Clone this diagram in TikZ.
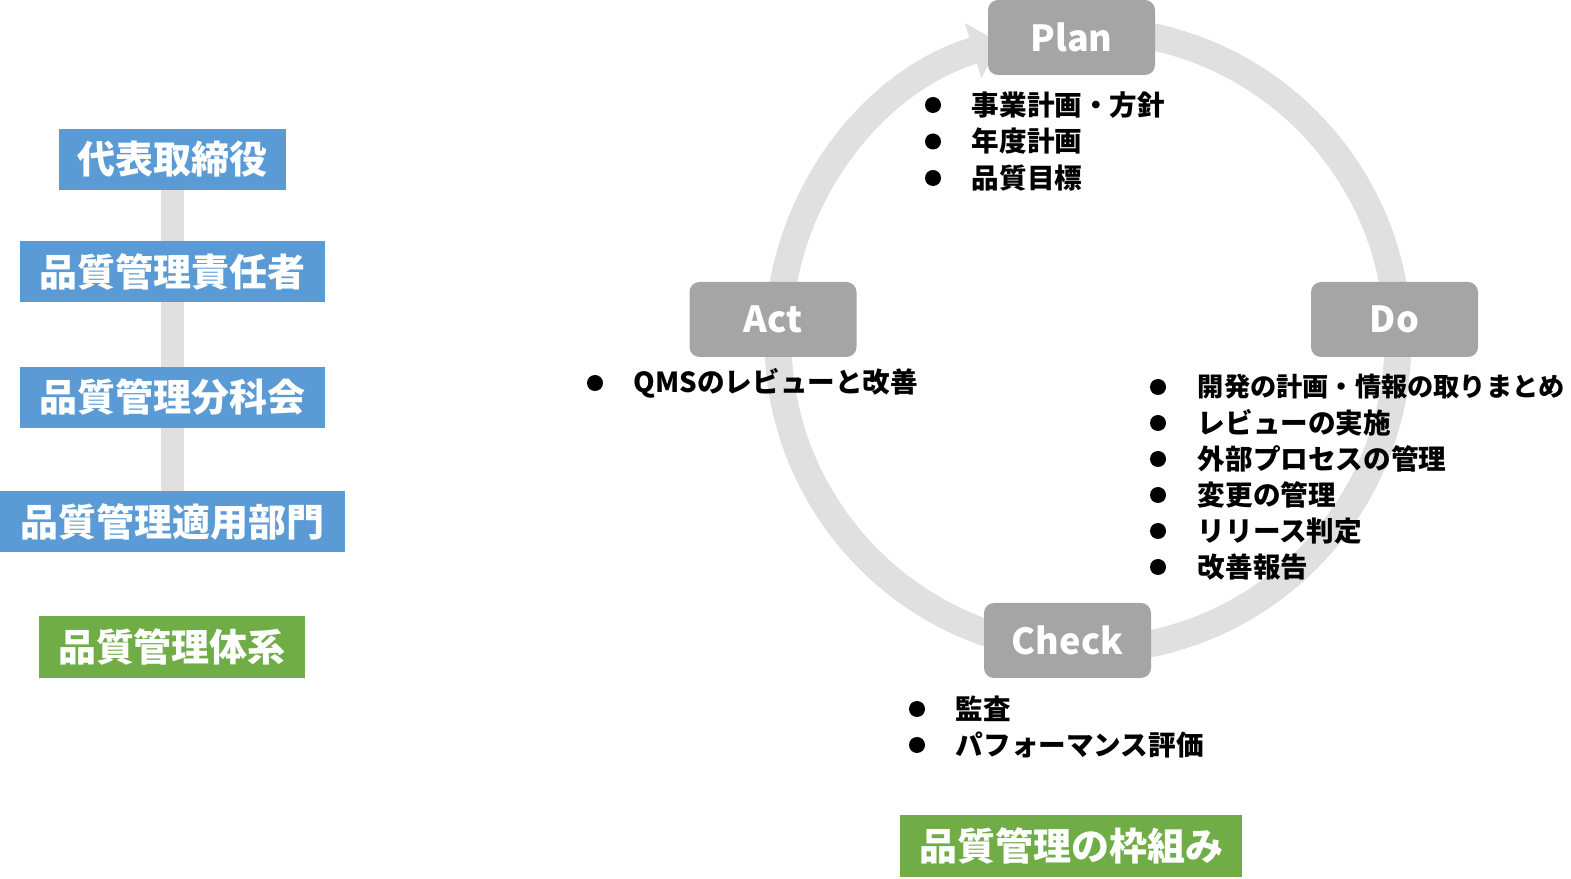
\documentclass[tikz,border=0pt]{standalone}
\usepackage{fontspec}
\setmainfont{Noto Sans CJK JP}
\usetikzlibrary{arrows.meta, positioning, backgrounds}

\definecolor{roleblue}{HTML}{5B9BD5}
\definecolor{taggreen}{HTML}{70AD47}
\definecolor{phasegray}{HTML}{A5A5A5}
\definecolor{ringgray}{HTML}{E0E0E0}

\begin{document}
\begin{tikzpicture}[x=0.5pt, y=0.5pt,
    role/.style={rectangle, fill=roleblue, text=white, minimum height=30.5pt, inner sep=0pt, font=\fontsize{19}{22}\selectfont\bfseries},
    tag/.style={rectangle, fill=taggreen, text=white, minimum height=31pt, inner sep=0pt, font=\fontsize{19}{22}\selectfont\bfseries},
    phase/.style={rectangle, rounded corners=5pt, fill=phasegray, text=white, minimum width=83.5pt, minimum height=37.5pt, font=\fontsize{18}{20}\selectfont\bfseries},
    dot/.style={circle, fill=black, inner sep=0pt, minimum size=8pt},
    item/.style={inner sep=0pt, font=\fontsize{13.8}{16}\selectfont\bfseries}]
    \useasboundingbox (0,0) rectangle (1571,879);

    % 左側：体制
    \node[role, minimum width=113.5pt] (ceo)  at (172.5,719.5) {代表取締役};
    \node[role, minimum width=152.5pt] (mgr)  at (172.5,607.5) {品質管理責任者};
    \node[role, minimum width=152.5pt] (cmte) at (172.5,481.5) {品質管理分科会};
    \node[role, minimum width=172.5pt] (dept) at (172.5,357.5) {品質管理適用部門};
    \node[tag, minimum width=133pt] (sys) at (172,232) {品質管理体系};

    % PDCA
    \node[phase] (plan)  at (1071.5,841.5) {Plan};
    \node[phase] (do)    at (1394.5,559.5) {Do};
    \node[phase] (act)   at (773,559.5)    {Act};
    \node[phase] (check) at (1067.5,238.5) {Check};
    \node[tag, minimum width=171pt] (frame) at (1071,33) {品質管理の枠組み};
    \coordinate (hub) at (1088,539);

    % 箇条書き
    \foreach \t [count=\k] in {事業計画・方針, 年度計画, 品質目標} {
        \node[dot] (pd\k) at (933,774-36.5*\k+36.5) {};
        \node[item, right=15pt of pd\k] (pt\k) {\t};
    }
    \foreach \t [count=\k] in {{\fontsize{13.1}{16}\selectfont 開発の計画・情報の取りまとめ}, レビューの実施, 外部プロセスの管理, 変更の管理, リリース判定, 改善報告} {
        \node[dot] (dd\k) at (1158,492-36*\k+36) {};
        \node[item, right=15.5pt of dd\k] (dt\k) {\t};
    }
    \node[dot] (ad1) at (595,496) {};
    \node[item, right=15pt of ad1] (at1) {QMSのレビューと改善};
    \foreach \t [count=\k] in {監査, パフォーマンス評価} {
        \node[dot] (cd\k) at (917,170-36*\k+36) {};
        \node[item, right=15pt of cd\k] (ct\k) {\t};
    }

    % 背景の線と円
    \begin{scope}[on background layer]
        \draw[ringgray, line width=11.5pt] (ceo.south) -- (dept.north);
        \draw[ringgray, line width=13.5pt, -{Triangle[width=28pt,length=14pt]}]
            ([shift={(85:155pt)}]hub) arc[start angle=85, end angle=-253.5, radius=155pt];
    \end{scope}
\end{tikzpicture}
\end{document}
